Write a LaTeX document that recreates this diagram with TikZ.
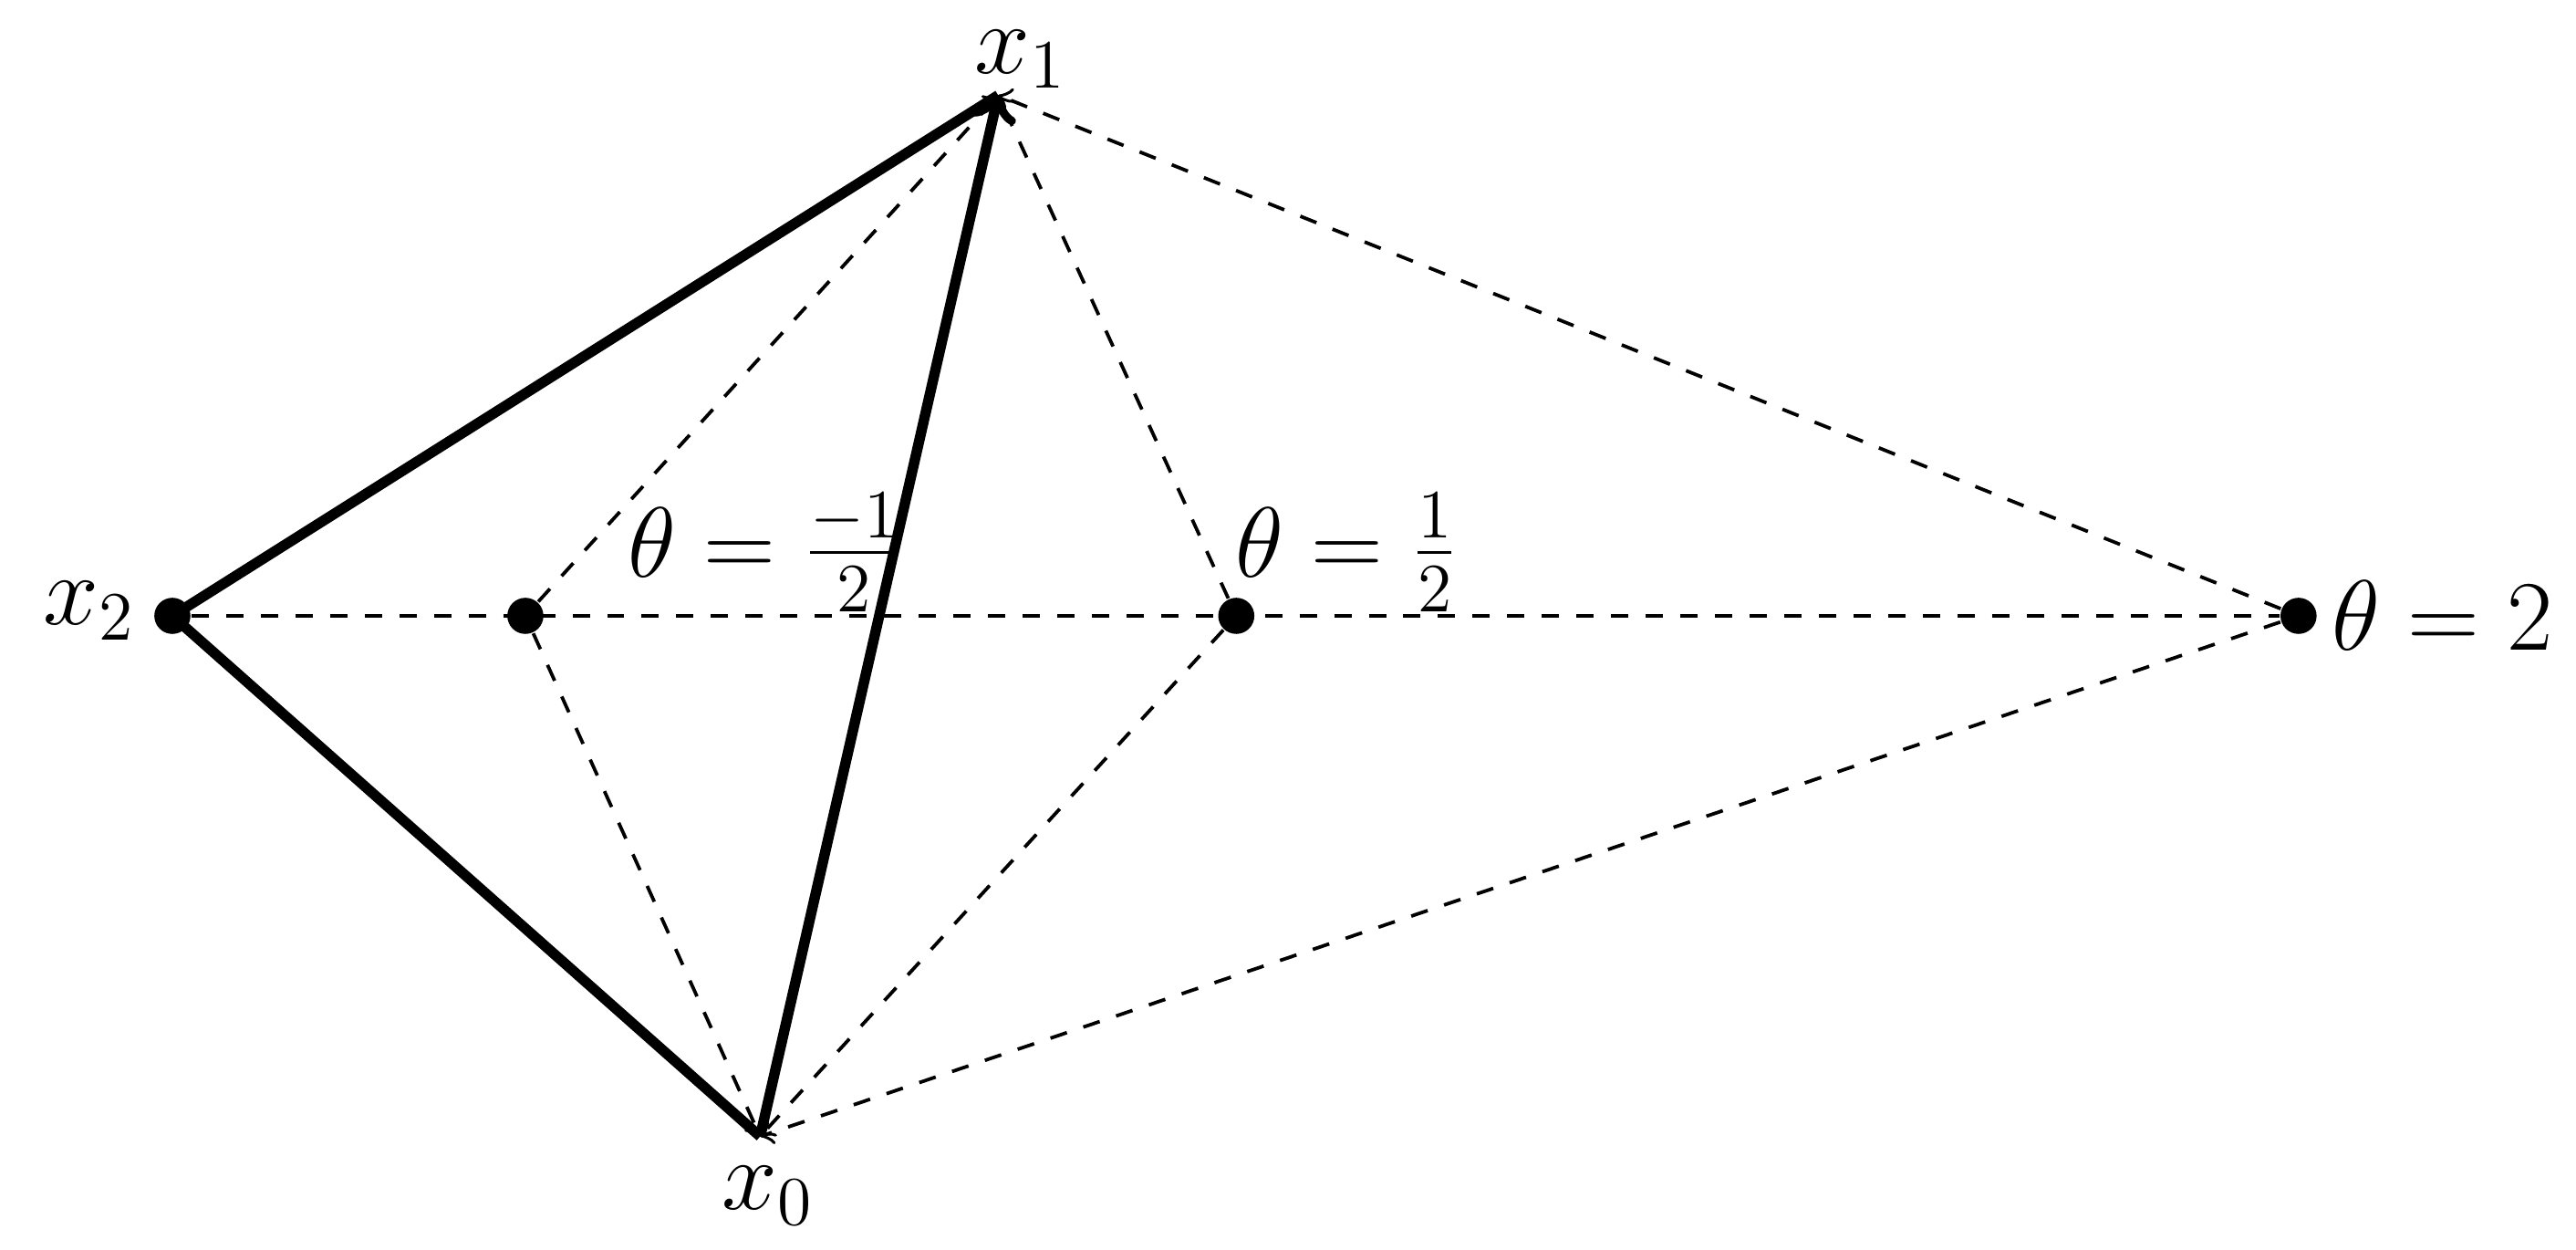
\documentclass[tikz,border=0pt]{standalone}
\begin{document}
\begin{tikzpicture}[x=1cm,y=1cm,
 thk/.style={line width=1.8pt},
 dsh/.style={dashed,line width=0.6pt},
 dot/.style={circle,fill=black,inner sep=0pt,minimum size=0.22cm},
 lab/.style={font=\LARGE}]
\useasboundingbox (0,0) rectangle (15.69,-7.61);
\coordinate (x1) at (6.08,-0.58);
\coordinate (x0) at (4.63,-6.92);
\node[dot] (x2) at (1.05,-3.75) {};
\node[dot] (A) at (3.20,-3.75) {};
\node[dot] (B) at (7.53,-3.75) {};
\node[dot] (C) at (14.00,-3.75) {};
\node[lab,anchor=south,inner sep=1pt] at (6.22,-0.58) {$x_1$};
\node[lab,anchor=north] at (4.68,-6.98) {$x_0$};
\node[lab,anchor=east] at (0.95,-3.72) {$x_2$};
\node[lab,anchor=west] at (14.08,-3.75) {$\theta=2$};
\node[lab,anchor=south west] at (3.70,-3.85) {$\theta=\frac{-1}{2}$};
\node[lab,anchor=south west] at (7.40,-3.85) {$\theta=\frac{1}{2}$};
\draw[dsh] (x2) -- (C);
\foreach \p in {A,B,C}{
 \draw[dsh,->] (\p) -- (x1);
 \draw[dsh,->] (\p) -- (x0);
}
\draw[thk] (x2.center) -- (x1);
\draw[thk] (x2.center) -- (x0);
\draw[thk,->] (x0) -- (x1);
\end{tikzpicture}
\end{document}
